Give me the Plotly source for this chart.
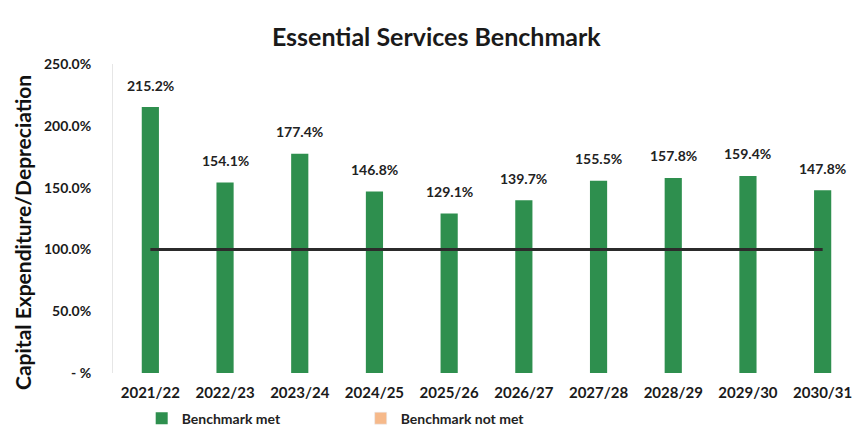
import plotly.graph_objects as go

# Capital expenditure as a share of depreciation, by financial year
years = ["2021/22", "2022/23", "2023/24", "2024/25", "2025/26",
         "2026/27", "2027/28", "2028/29", "2029/30", "2030/31"]
ratio_pct = [215.2, 154.1, 177.4, 146.8, 129.1, 139.7, 155.5, 157.8, 159.4, 147.8]
benchmark_pct = [100.0] * len(years)

y_ticks = [0, 50, 100, 150, 200, 250]
y_tick_text = ["- %", "50.0%", "100.0%", "150.0%", "200.0%", "250.0%"]

GREEN = "#2e8f4e"
ORANGE = "#f6b98a"
FONT = "Lato"

fig = go.Figure()

fig.add_trace(go.Bar(
    x=years, y=ratio_pct, name="Benchmark met",
    marker=dict(color=GREEN, line=dict(width=0)),
    width=0.23,
))
# Placeholder series so the legend lists the "not met" state
fig.add_trace(go.Bar(
    x=years, y=[None] * len(years), name="Benchmark not met",
    marker=dict(color=ORANGE),
))
fig.add_trace(go.Scatter(
    x=years, y=benchmark_pct, mode="lines",
    line=dict(color="#2b2b2b", width=3),
    showlegend=False, hoverinfo="skip",
))

for yr, v in zip(years, ratio_pct):
    fig.add_annotation(
        x=yr, y=v, text=f"{v:.1f}%", showarrow=False,
        yshift=22, font=dict(family=FONT, size=14, color="#222222", weight="bold"),
    )

# Vertical axis title, set slightly below the plot's mid-height
fig.add_annotation(
    text="<b>Capital Expenditure/Depreciation</b>", textangle=-90,
    xref="paper", yref="paper", x=-0.122, y=0.456,
    xanchor="center", yanchor="middle", showarrow=False,
    font=dict(family=FONT, size=21, color="#111111"),
)

fig.update_layout(
    width=864, height=436,
    margin=dict(l=113, r=4, t=64, b=63, autoexpand=False),
    paper_bgcolor="white", plot_bgcolor="white",
    barmode="overlay",
    title=dict(
        text="<b>Essential Services Benchmark</b>",
        x=0.505, xanchor="center", y=0.915, yanchor="middle",
        font=dict(family=FONT, size=25, color="#1a1a1a"),
    ),
    showlegend=True,
    legend=dict(
        orientation="h", xref="container", yref="container",
        x=0.164, xanchor="left", y=0.04, yanchor="middle",
        entrywidth=174, entrywidthmode="pixels",
        font=dict(family=FONT, size=14, color="#222222", weight="bold"),
        itemwidth=30,
    ),
)

fig.update_xaxes(
    showgrid=False, showline=False, ticks="",
    tickfont=dict(family=FONT, size=15, color="#1a1a1a", weight="bold"),
    ticklabelstandoff=9,
)
fig.update_yaxes(
    range=[0, 250], tickvals=y_ticks, ticktext=y_tick_text,
    showgrid=False, zeroline=False, showline=True,
    linecolor="#e6e6e6", linewidth=1,
    tickfont=dict(family=FONT, size=14, color="#1a1a1a", weight="bold"),
    ticklabelstandoff=18,
)

fig.write_html("out.html")
